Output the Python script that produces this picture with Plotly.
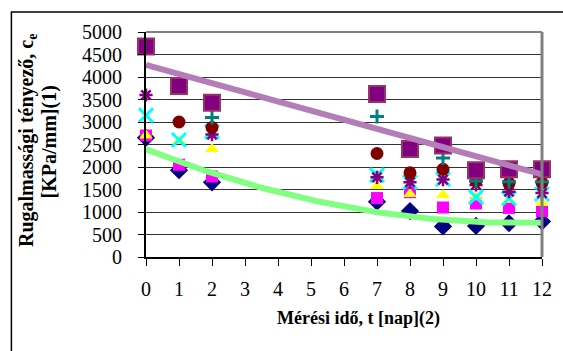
import numpy as np
import plotly.graph_objects as go

days = [0, 1, 2, 7, 8, 9, 10, 11, 12]
s_diamond = [2650, 1930, 1660, 1230, 1020, 680, 690, 750, 790]
s_magenta = [2700, 2050, 1790, 1310, 1440, 1100, 1190, 1090, 1020]
s_yellow = [2700, 2580, 2400, 1580, 1400, 1380, 1330, 1270, 1200]
s_xcyan = [3150, 2600, 2780, 1820, 1660, 1730, 1330, 1300, 1400]
s_star = [3600, None, 2720, 1770, 1660, 1720, 1600, 1450, 1420]
s_circle = [None, 3000, 2880, 2300, 1870, 1950, 1690, 1640, 1650]
s_plus = [None, None, 3100, 3120, None, 2200, 1690, 1670, 1670]
s_big = [4680, 3800, 3430, 3620, 2400, 2480, 1930, 1950, 1950]

x_ticks = list(range(0, 13))
y_ticks = list(range(0, 5001, 500))

SERIF = "Liberation Serif, Times New Roman, serif"

fig = go.Figure()

def add(vals, symbol, size, color, lcolor=None, lwidth=0):
    fig.add_trace(go.Scatter(
        x=days, y=vals, mode="markers", cliponaxis=False,
        marker=dict(symbol=symbol, size=size, color=color,
                    line=dict(color=lcolor or color, width=lwidth)),
        hoverinfo="skip"))

add(s_diamond, "diamond", 14, "#000080")
add(s_magenta, "square", 12, "#FF00FF")
add(s_yellow, "triangle-up", 12, "#FFFF00")
add(s_xcyan, "x-thin-open", 14, "#00FFFF", "#00FFFF", 3)
add(s_star, "asterisk-open", 11, "#800080", "#800080", 2.5)
add(s_circle, "circle", 13, "#800000")
add(s_plus, "cross-thin-open", 10, "#008080", "#008080", 3)
add(s_big, "square", 16, "#800080", "#993366", 2)

# trend lines (regressions of the data, as in the original spreadsheet)
xs = np.linspace(0, 12, 121)
pb = np.polyfit(days, s_big, 1)
pd_ = np.polyfit(days, s_diamond, 2)
fig.add_trace(go.Scatter(x=xs, y=np.polyval(pb, xs), mode="lines",
                         line=dict(color="#B47DB8", width=6), hoverinfo="skip"))
fig.add_trace(go.Scatter(x=xs, y=np.polyval(pd_, xs), mode="lines",
                         line=dict(color="#80FF80", width=6), hoverinfo="skip"))

fig.update_layout(
    width=563, height=351,
    margin=dict(l=146, r=11, t=32, b=94),
    paper_bgcolor="white", plot_bgcolor="white",
    showlegend=False,
    font=dict(family=SERIF, color="black"),
    xaxis=dict(range=[0, 12], tickvals=x_ticks, ticktext=[str(v) for v in x_ticks],
               showgrid=False, zeroline=False, showline=True, linecolor="black",
               linewidth=2, ticks="outside", ticklen=7, tickwidth=1, tickcolor="black",
               tickfont=dict(family=SERIF, size=20), ticklabelstandoff=6),
    yaxis=dict(range=[0, 5000], tickvals=y_ticks, ticktext=[str(v) for v in y_ticks],
               showgrid=True, gridcolor="#333333", gridwidth=1, zeroline=False,
               showline=True, linecolor="black", linewidth=2, ticks="outside",
               ticklen=6, tickwidth=1, tickcolor="black",
               tickfont=dict(family=SERIF, size=20), ticklabelstandoff=12),
)

# plot-area gray border (top and right)
fig.add_shape(type="line", xref="paper", yref="paper", x0=0, x1=1, y0=1, y1=1,
              line=dict(color="#808080", width=2))
fig.add_shape(type="line", xref="paper", yref="paper", x0=1, x1=1, y0=0, y1=1,
              line=dict(color="#808080", width=3))
# outer chart frame
fig.add_shape(type="rect", xref="paper", yref="paper",
              x0=(8 - 146) / 406, x1=(600 - 146) / 406,
              y0=(257 - 400) / 225, y1=(257 - 12) / 225,
              line=dict(color="black", width=1.5), layer="below")

fig.add_annotation(xref="paper", yref="paper", x=(24 - 146) / 406, y=(257 - 141) / 225,
                   text="<b>Rugalmassági tényező, c<sub>e</sub></b>",
                   textangle=-90, showarrow=False, xanchor="center", yanchor="middle",
                   font=dict(family=SERIF, size=20, color="black"))
fig.add_annotation(xref="paper", yref="paper", x=(47 - 146) / 406, y=(257 - 142) / 225,
                   text="<b>[KPa/mm](1)</b>",
                   textangle=-90, showarrow=False, xanchor="center", yanchor="middle",
                   font=dict(family=SERIF, size=20, color="black"))
fig.add_annotation(xref="paper", yref="paper", x=(364 - 146) / 406, y=(257 - 318) / 225,
                   text="<b>Mérési idő, t [nap](2)</b>",
                   showarrow=False, xanchor="center", yanchor="middle",
                   font=dict(family=SERIF, size=18, color="black"))

fig.write_html("out.html")
